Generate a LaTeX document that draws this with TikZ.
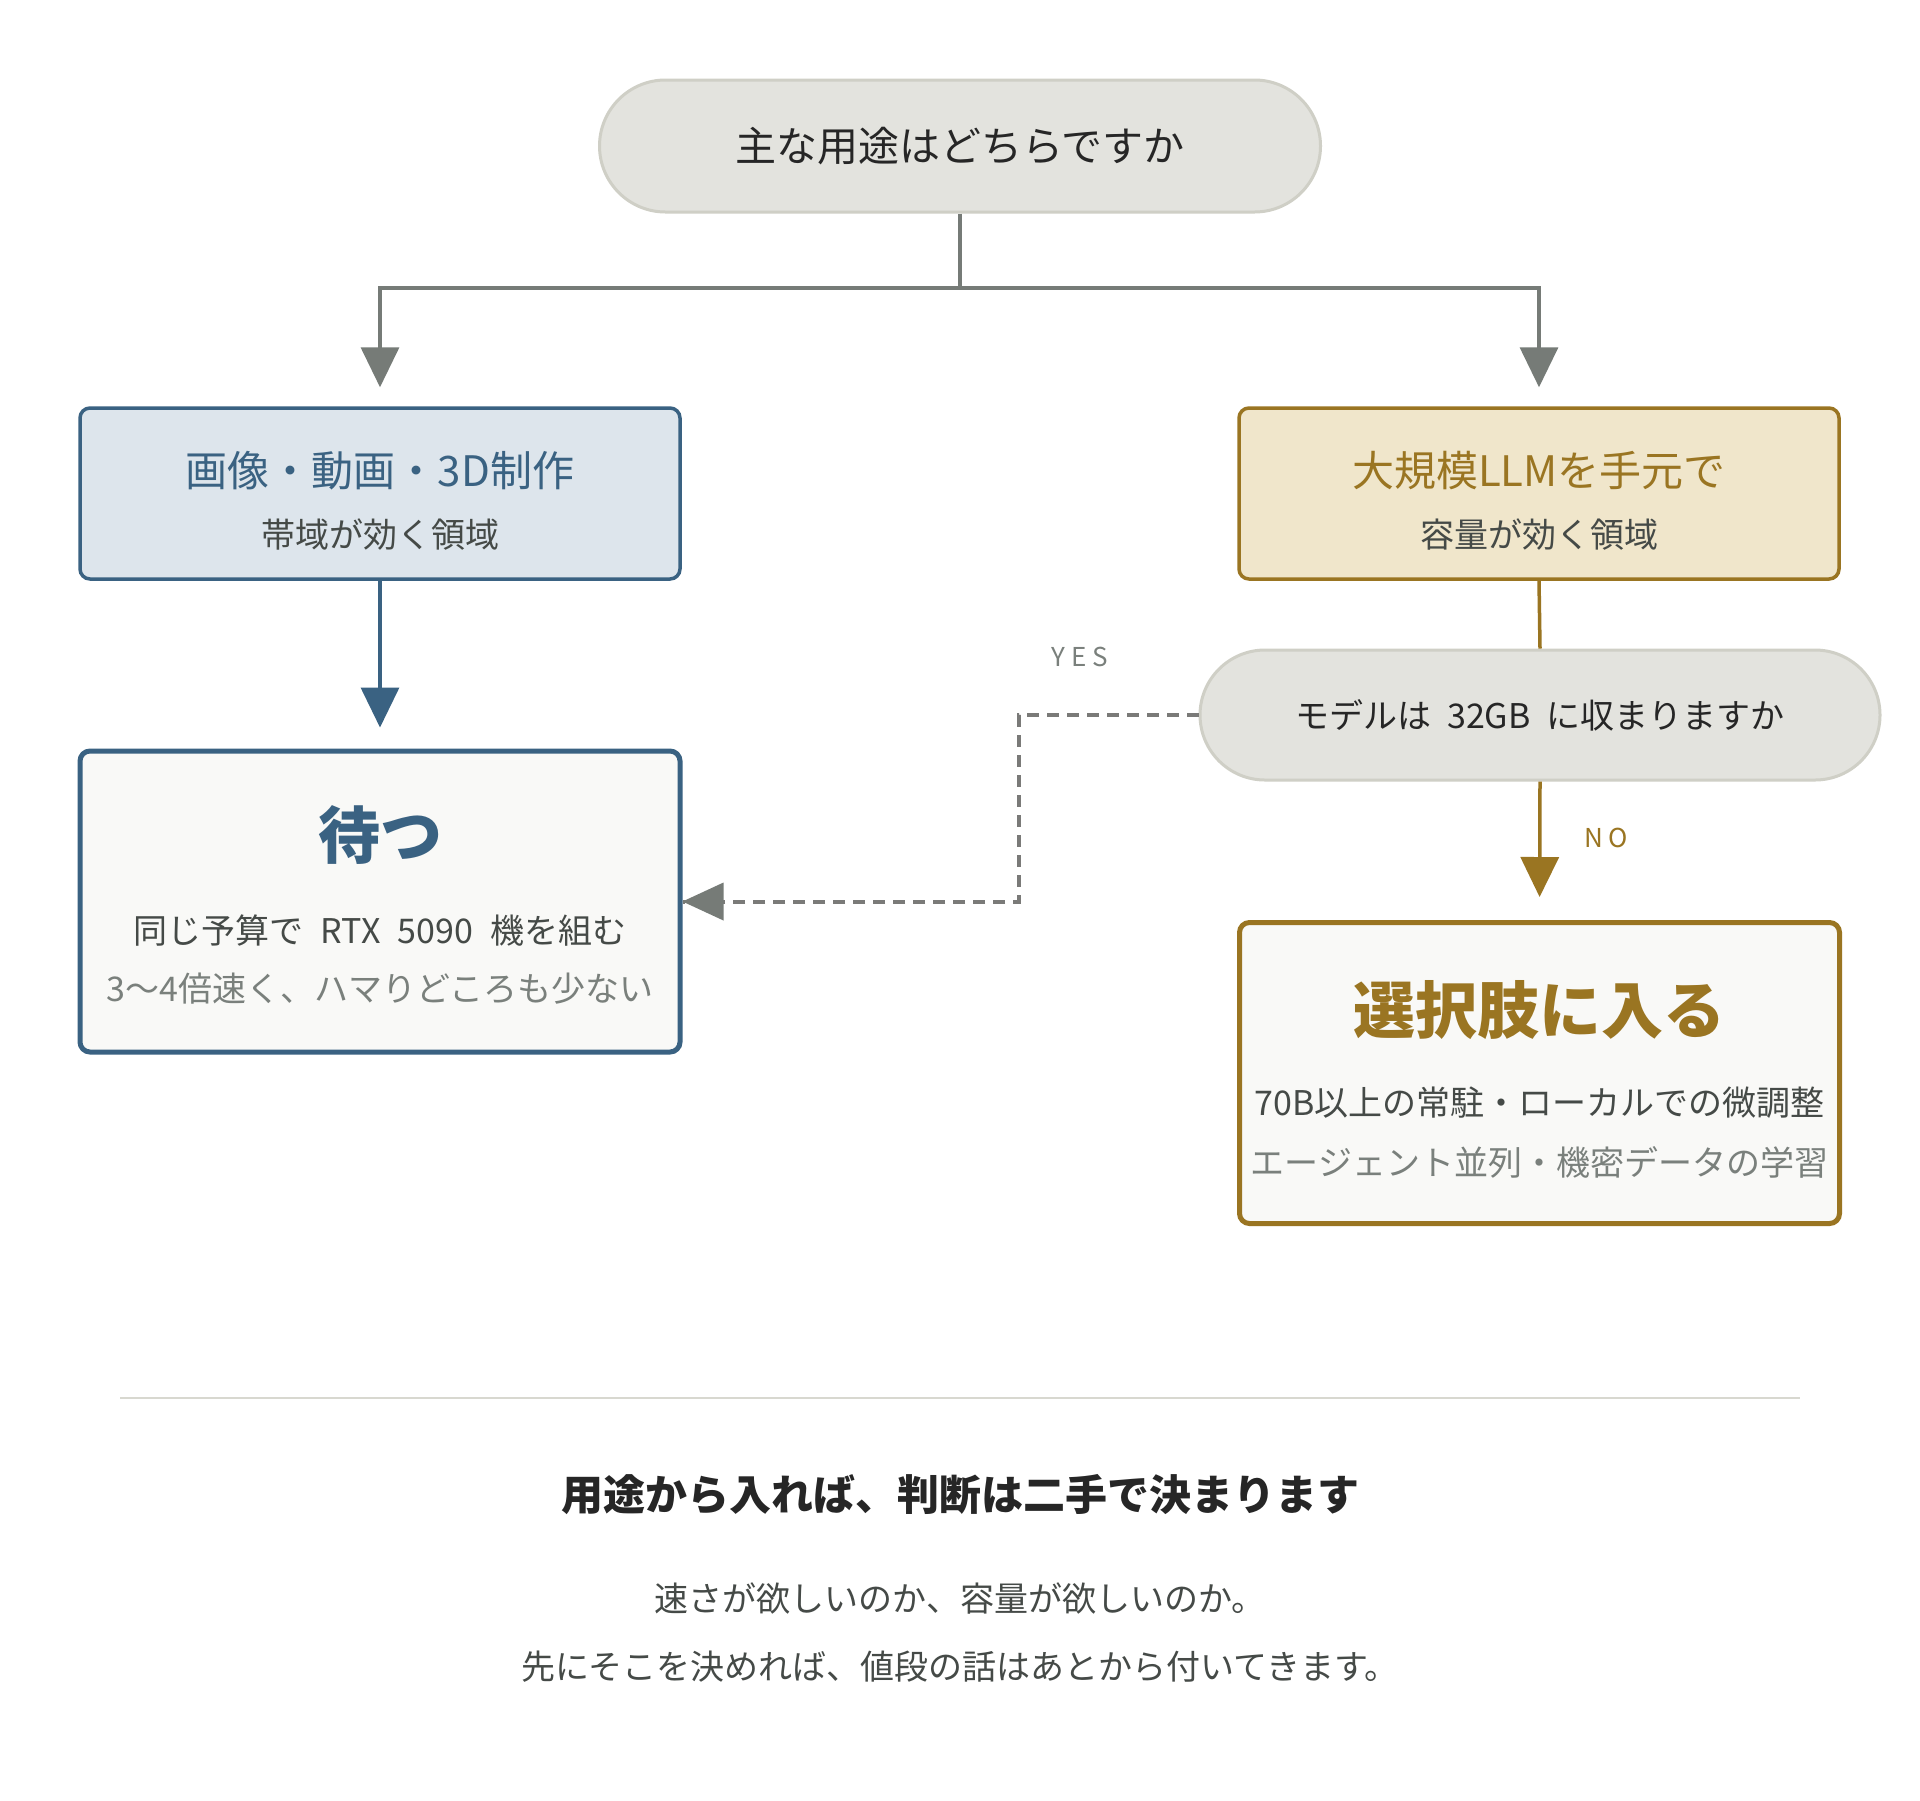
\documentclass[tikz,border=0pt]{standalone}
\usepackage{fontspec}
\setmainfont{Noto Sans CJK JP}
\newfontfamily\lblfont[LetterSpace=22]{Noto Sans CJK JP}
\usetikzlibrary{arrows.meta}
\definecolor{pillF}{HTML}{E3E3DE}
\definecolor{pillB}{HTML}{CFCFC6}
\definecolor{conn}{HTML}{767B77}
\definecolor{blueC}{HTML}{3A6282}
\definecolor{blueF}{HTML}{DDE5EC}
\definecolor{goldC}{HTML}{9A7522}
\definecolor{goldF}{HTML}{F0E6CB}
\definecolor{resF}{HTML}{F9F9F7}
\definecolor{txtD}{HTML}{262626}
\definecolor{txtM}{HTML}{454A47}
\definecolor{txtL}{HTML}{7A807C}
\definecolor{dashC}{HTML}{7A7A78}
\definecolor{sepC}{HTML}{D8D8D0}
\begin{document}
\begin{tikzpicture}[x=0.5pt,y=-0.5pt,
  pill/.style={draw=pillB, fill=pillF, line width=1.5pt, inner sep=0pt, text=txtD},
  catbox/.style={line width=1.75pt, rounded corners=5pt, minimum width=300pt, minimum height=85.5pt, inner sep=0pt},
  resbox/.style={fill=resF, line width=2.5pt, rounded corners=5pt, minimum width=300pt, minimum height=150.5pt, inner sep=0pt},
  cattitle/.style={font=\fontsize{21pt}{25pt}\selectfont, inner sep=0pt},
  catsub/.style={font=\fontsize{17pt}{20pt}\selectfont, text=txtM, inner sep=0pt},
  restitle/.style={font=\fontsize{31pt}{36pt}\selectfont\bfseries, inner sep=0pt},
  resline/.style={font=\fontsize{17pt}{20pt}\selectfont, text=txtM, inner sep=0pt},
  reslight/.style={font=\fontsize{17pt}{20pt}\selectfont, text=txtL, inner sep=0pt},
  tip/.style={-{Triangle[length=20pt,width=19pt]}},
  grayconn/.style={draw=conn, line width=1.75pt},
  lbl/.style={font=\fontsize{13pt}{15pt}\selectfont\lblfont, inner sep=0pt}
]
\path[use as bounding box, fill=white] (0,0) rectangle (1920,1800);

% top question
\node[pill, rounded corners=33pt, minimum width=360.5pt, minimum height=66pt,
      font=\fontsize{20.5pt}{24pt}\selectfont] (q1) at (960,146) {主な用途はどちらですか};

% category boxes
\node[catbox, draw=blueC, fill=blueF] (b1) at (380,493.5) {};
\node[cattitle, text=blueC] (b1t) at (380,471) {画像・動画・3D制作};
\node[catsub] (b1s) at (380,535) {帯域が効く領域};

\node[catbox, draw=goldC, fill=goldF] (b2) at (1539,493.5) {};
\node[cattitle, text=goldC] (b2t) at (1539,471) {大規模LLMを手元で};
\node[catsub] (b2s) at (1539,535) {容量が効く領域};

% second question
\node[pill, rounded corners=32.5pt, minimum width=340pt, minimum height=65pt,
      font=\fontsize{17pt}{20pt}\selectfont] (q2) at (1540,715) {モデルは\hspace{0.45em}32GB\hspace{0.45em}に収まりますか};

% result boxes
\node[resbox, draw=blueC] (r1) at (380,901.5) {};
\node[restitle, text=blueC] (r1t) at (380,835) {待つ};
\node[resline] (r1a) at (380,931) {同じ予算で\hspace{0.5em}RTX\hspace{0.5em}5090\hspace{0.5em}機を組む};
\node[reslight] (r1b) at (380,989) {3〜4倍速く、ハマりどころも少ない};

\node[resbox, draw=goldC] (r2) at (1539.5,1073) {};
\node[restitle, text=goldC] (r2t) at (1539.5,1010) {選択肢に入る};
\node[resline] (r2a) at (1539.5,1103) {70B以上の常駐・ローカルでの微調整};
\node[reslight] (r2b) at (1539.5,1162) {エージェント並列・機密データの学習};

% connectors from top question
\coordinate (jn) at (960,288);
\draw[grayconn] (q1.south) -- (jn);
\draw[grayconn, tip, shorten >=9.5pt] (jn) -| (b1.north);
\draw[grayconn, tip, shorten >=9.5pt] (jn) -| (b2.north);

% left branch
\draw[draw=blueC, line width=1.75pt, tip, shorten >=10.5pt] (b1.south) -- (r1.north);

% right branch
\draw[draw=goldC, line width=1.75pt] (b2.south) -- (q2.north);
\draw[draw=goldC, line width=1.75pt, tip, shorten >=11.5pt] (q2.south) -- (r2.north);
\node[lbl, text=goldC] (nolbl) at (1606,838) {NO};

% YES dashed
\draw[draw=dashC, line width=2pt, dash pattern=on 6pt off 4pt] (q2.west) -- ++(-180,0) |- (r1.east);
\fill[conn] (r1.east) -- ++(41,-19) -- ++(0,38) -- cycle;
\node[lbl, text=txtL] (yeslbl) at (1080,657) {YES};

% separator and conclusion
\coordinate (s1) at (120,1398);
\coordinate (s2) at (1800,1398);
\draw[sepC, line width=1pt] (s1) -- (s2);
\node[font=\fontsize{21pt}{25pt}\selectfont\bfseries, text=txtD, inner sep=0pt] (c1) at (960,1495) {用途から入れば、判断は二手で決まります};
\node[font=\fontsize{17pt}{20pt}\selectfont, text=txtM, inner sep=0pt] (c2) at (960,1598) {速さが欲しいのか、容量が欲しいのか。};
\node[font=\fontsize{17pt}{20pt}\selectfont, text=txtM, inner sep=0pt] (c3) at (960,1667) {先にそこを決めれば、値段の話はあとから付いてきます。};
\end{tikzpicture}
\end{document}
